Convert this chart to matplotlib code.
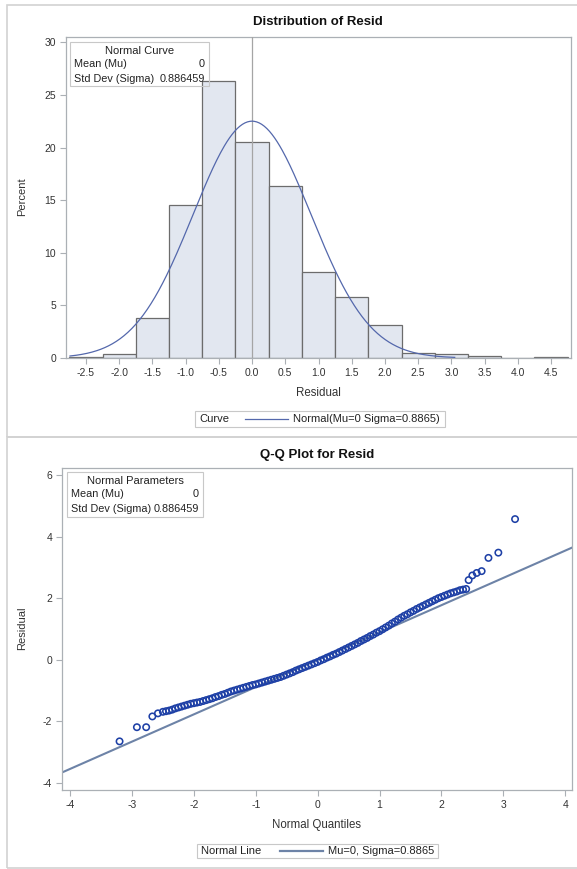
import numpy as np
import matplotlib
matplotlib.use("Agg")
import matplotlib.pyplot as plt
from matplotlib.patches import Rectangle
from matplotlib.lines import Line2D

plt.rcParams['font.family'] = ['Liberation Sans', 'DejaVu Sans']
plt.rcParams['axes.unicode_minus'] = False

W, H = 577, 869

# histogram of residuals, percent per bin (bin width 0.5)
bin_mids = [-2.5, -2.0, -1.5, -1.0, -0.5, 0.0, 0.5, 1.0, 1.5, 2.0, 2.5, 3.0, 3.5, 4.0, 4.5]
bin_pct = [0.1, 0.35, 3.8, 14.5, 26.3, 20.5, 16.3, 8.15, 5.75, 3.1, 0.45, 0.35, 0.15, 0.0, 0.1]
bin_width = 0.5
mu = 0.0
sigma = 0.886459
curve_range = [-2.74, 3.05]
hist_ticks = [-2.5, -2.0, -1.5, -1.0, -0.5, 0.0, 0.5, 1.0, 1.5, 2.0, 2.5, 3.0, 3.5, 4.0, 4.5]

# Q-Q plot points (normal quantile, residual)
qq_x = [-3.20, -2.92, -2.77, -2.67, -2.58, -2.50, -2.45,
        -2.40, -2.35, -2.30, -2.25, -2.20, -2.15, -2.10, -2.05, -2.00, -1.95,
        -1.90, -1.85, -1.80, -1.75, -1.70, -1.65, -1.60, -1.55, -1.50, -1.45,
        -1.40, -1.35, -1.30, -1.25, -1.20, -1.15, -1.10, -1.05, -1.00, -0.95,
        -0.90, -0.85, -0.80, -0.75, -0.70, -0.65, -0.60, -0.55, -0.50, -0.45,
        -0.40, -0.35, -0.30, -0.25, -0.20, -0.15, -0.10, -0.05, 0.00, 0.05,
        0.10, 0.15, 0.20, 0.25, 0.30, 0.35, 0.40, 0.45, 0.50, 0.55,
        0.60, 0.65, 0.70, 0.75, 0.80, 0.85, 0.90, 0.95, 1.00, 1.05,
        1.10, 1.15, 1.20, 1.25, 1.30, 1.35, 1.40, 1.45, 1.50, 1.55,
        1.60, 1.65, 1.70, 1.75, 1.80, 1.85, 1.90, 1.95, 2.00, 2.05,
        2.10, 2.15, 2.20, 2.25, 2.30, 2.35, 2.40,
        2.44, 2.50, 2.57, 2.65, 2.76, 2.92, 3.19]
qq_y = [-2.65, -2.19, -2.19, -1.84, -1.74, -1.69, -1.67,
        -1.65, -1.62, -1.58, -1.55, -1.52, -1.49, -1.46, -1.43, -1.41, -1.39,
        -1.37, -1.34, -1.31, -1.28, -1.25, -1.21, -1.18, -1.14, -1.11, -1.07,
        -1.03, -1.00, -0.97, -0.94, -0.91, -0.88, -0.85, -0.82, -0.80, -0.77,
        -0.74, -0.71, -0.68, -0.65, -0.62, -0.59, -0.56, -0.52, -0.48, -0.44,
        -0.40, -0.35, -0.31, -0.27, -0.23, -0.19, -0.15, -0.11, -0.07, -0.02,
        0.02, 0.07, 0.11, 0.16, 0.20, 0.25, 0.30, 0.35, 0.40, 0.45,
        0.50, 0.55, 0.61, 0.66, 0.71, 0.77, 0.82, 0.88, 0.93, 0.99,
        1.05, 1.11, 1.18, 1.24, 1.31, 1.37, 1.43, 1.48, 1.54, 1.59,
        1.65, 1.70, 1.75, 1.80, 1.85, 1.90, 1.95, 2.00, 2.04, 2.08,
        2.12, 2.16, 2.19, 2.22, 2.26, 2.28, 2.30,
        2.59, 2.74, 2.82, 2.88, 3.31, 3.48, 4.57]
qq_ticks_x = [-4, -3, -2, -1, 0, 1, 2, 3, 4]
qq_ticks_y = [-4, -2, 0, 2, 4, 6]

frame_col = '#ABB0B5'
text_col = '#333333'
fill_col = '#E2E7F0'
edge_col = '#6C6C6C'
curve_col = '#5468AC'
marker_col = '#1E40A6'
line_col = '#6D83A7'


def fx(px):
    return px / W


def fy(py):
    return 1 - py / H


def style_axes(ax):
    for s in ax.spines.values():
        s.set_color(frame_col)
        s.set_linewidth(0.9)
    ax.tick_params(direction='out', length=4, width=0.8, color=frame_col,
                   labelcolor=text_col, labelsize=7.5, pad=3)


def info_box(x0, y0, x1, y1, title, rows):
    fig.add_artist(Rectangle((fx(x0), fy(y1)), fx(x1) - fx(x0), fy(y0) - fy(y1),
                             transform=fig.transFigure, fill=False,
                             edgecolor='#C8C8C8', lw=0.8))
    fig.text(fx((x0 + x1) / 2), fy(y0 + 9), title, ha='center', va='center',
             size=8, color='#222222')
    for i, (lab, val) in enumerate(rows):
        yy = y0 + 22 + i * 15
        fig.text(fx(x0 + 4), fy(yy), lab, ha='left', va='center', size=7.8, color='#222222')
        fig.text(fx(x1 - 4), fy(yy), val, ha='right', va='center', size=7.8, color='#222222')


def legend_box(x0, y0, x1, y1, label, lx0, lx1, text, lw, col):
    fig.add_artist(Rectangle((fx(x0), fy(y1)), fx(x1) - fx(x0), fy(y0) - fy(y1),
                             transform=fig.transFigure, fill=False,
                             edgecolor='#C8C8C8', lw=0.8))
    yc = (y0 + y1) / 2
    fig.text(fx(x0 + 4), fy(yc), label, ha='left', va='center', size=8, color='#222222')
    fig.add_artist(Line2D([fx(lx0), fx(lx1)], [fy(yc), fy(yc)], transform=fig.transFigure,
                          color=col, lw=lw))
    fig.text(fx(lx1 + 5), fy(yc), text, ha='left', va='center', size=8, color='#222222')


fig = plt.figure(figsize=(W / 100, H / 100), dpi=100)

# panel frames
for top, bot in [(5, 437), (437, 868)]:
    fig.add_artist(Rectangle((fx(7), fy(bot)), 1.0, fy(top) - fy(bot),
                             transform=fig.transFigure, fill=False,
                             edgecolor='#D2D2D2', lw=1.2))

# ---- histogram ----
ax1 = fig.add_axes([fx(66), fy(358), (571 - 66) / W, (358 - 37) / H])
ax1.bar(bin_mids, bin_pct, width=bin_width, color=fill_col, edgecolor=edge_col,
        linewidth=0.9, zorder=2)
ax1.axvline(mu, color='#A5A5A5', lw=0.9, zorder=3)
xs = np.linspace(curve_range[0], curve_range[1], 300)
pdf = np.exp(-0.5 * ((xs - mu) / sigma) ** 2) / (sigma * np.sqrt(2 * np.pi))
ax1.plot(xs, 100 * bin_width * pdf, color=curve_col, lw=0.9, zorder=4)
ax1.set_xlim(-2.8, 4.8)
ax1.set_ylim(0, 30.5)
ax1.set_xticks(hist_ticks)
ax1.set_xticklabels(['%.1f' % t for t in hist_ticks])
ax1.set_yticks([0, 5, 10, 15, 20, 25, 30])
style_axes(ax1)

fig.text(fx(318), fy(22), 'Distribution of Resid', ha='center', va='center',
         size=9.5, weight='bold', color='#111111')
fig.text(fx(22), fy(197), 'Percent', ha='center', va='center', rotation=90,
         size=8, color=text_col)
fig.text(fx(318), fy(393), 'Residual', ha='center', va='center', size=8.3, color=text_col)
info_box(70, 42, 209, 86, 'Normal Curve', [('Mean (Mu)', '0'), ('Std Dev (Sigma)', '0.886459')])
legend_box(195, 411, 445, 427, 'Curve', 245, 288, 'Normal(Mu=0 Sigma=0.8865)', 0.9, curve_col)

# ---- Q-Q plot ----
ax2 = fig.add_axes([fx(62), fy(790), (572 - 62) / W, (790 - 468) / H])
ax2.set_xlim(-4.13, 4.11)
ax2.set_ylim(-4.23, 6.23)
xl = np.array(ax2.get_xlim())
ax2.plot(xl, mu + sigma * xl, color=line_col, lw=1.5, zorder=2)
ax2.scatter(qq_x, qq_y, s=21, facecolors='none', edgecolors=marker_col,
            linewidths=1.15, zorder=3)
ax2.set_xticks(qq_ticks_x)
ax2.set_yticks(qq_ticks_y)
style_axes(ax2)

fig.text(fx(317), fy(455), 'Q-Q Plot for Resid', ha='center', va='center',
         size=9.5, weight='bold', color='#111111')
fig.text(fx(22), fy(628), 'Residual', ha='center', va='center', rotation=90,
         size=8, color=text_col)
fig.text(fx(317), fy(825), 'Normal Quantiles', ha='center', va='center', size=8.3, color=text_col)
info_box(67, 472, 203, 517, 'Normal Parameters', [('Mean (Mu)', '0'), ('Std Dev (Sigma)', '0.886459')])
legend_box(197, 844, 438, 858, 'Normal Line', 280, 323, 'Mu=0, Sigma=0.8865', 1.6, line_col)

fig.savefig('out.png', dpi=100)
